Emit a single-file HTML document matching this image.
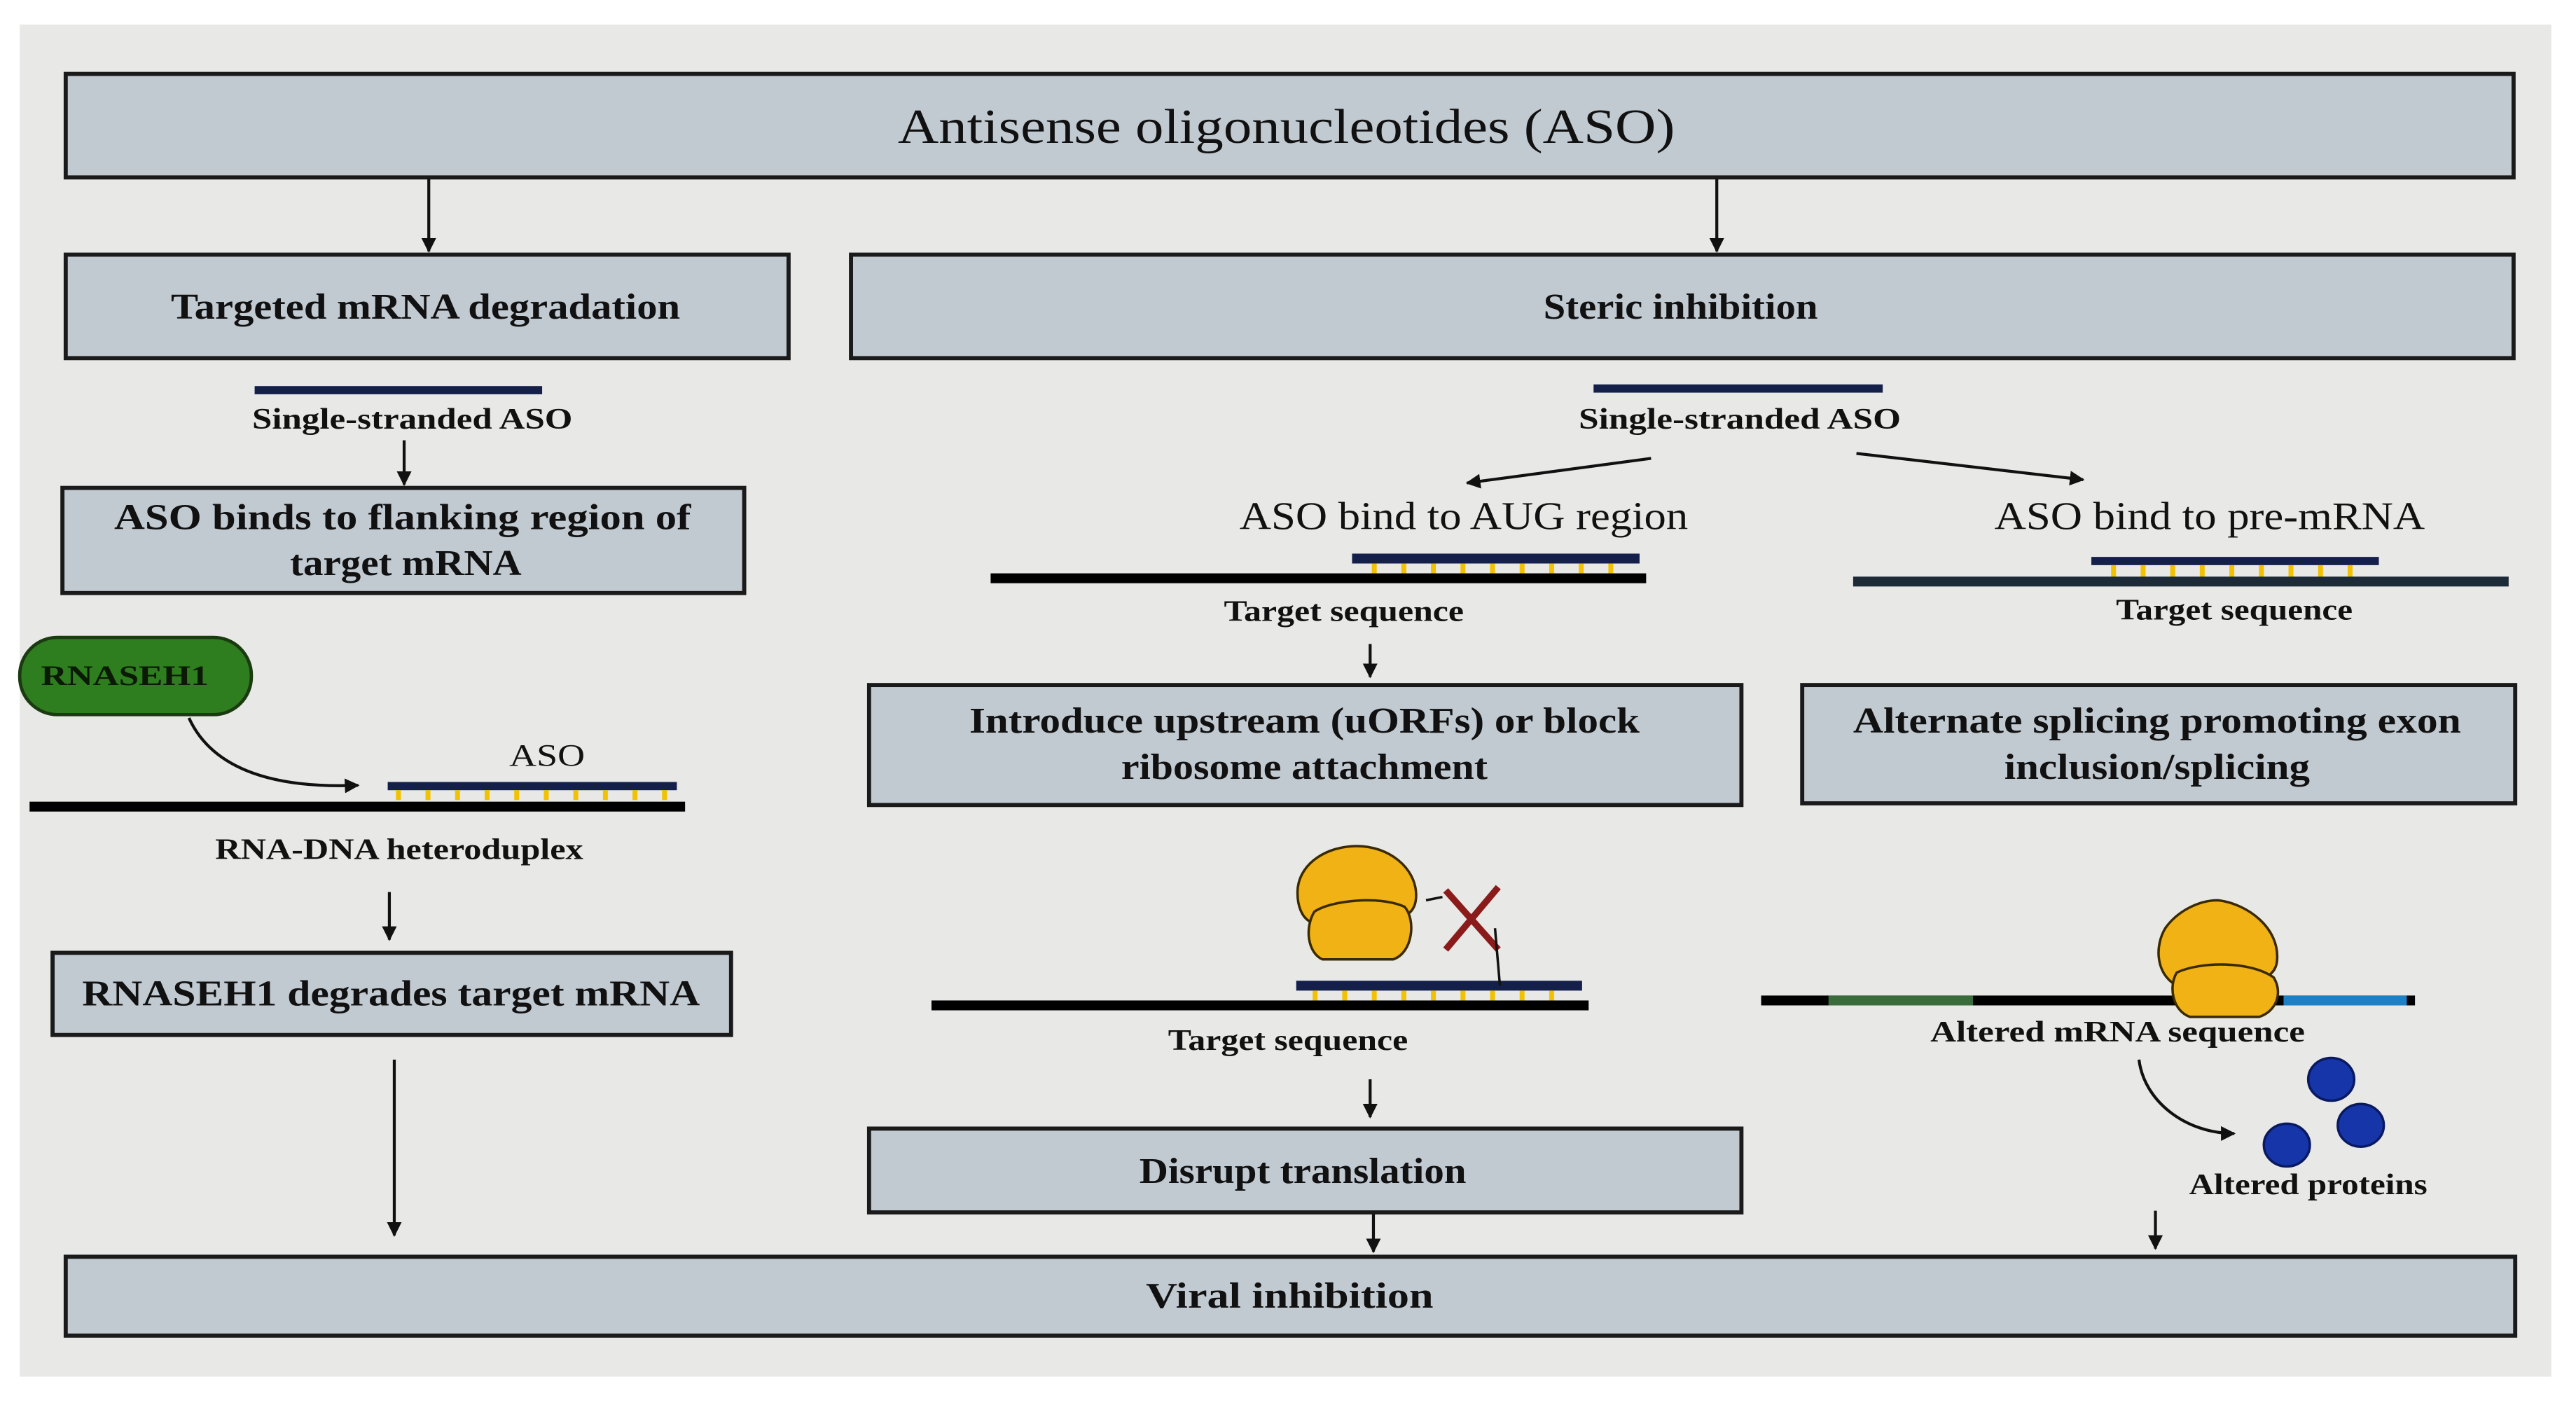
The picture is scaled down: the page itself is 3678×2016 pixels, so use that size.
<!DOCTYPE html>
<html><head><meta charset="utf-8"><style>html,body{margin:0;padding:0;background:#fff}svg{display:block}</style></head>
<body>
<svg width="3678" height="2016" viewBox="0 0 1568 859.5" preserveAspectRatio="none" xmlns="http://www.w3.org/2000/svg" font-family="Liberation Serif, serif" fill="#111">
<defs>
<marker id="ah" viewBox="0 0 10 10" refX="9" refY="5" markerWidth="5" markerHeight="5" orient="auto"><path d="M0,0 L10,5 L0,10 z" fill="#111"/></marker>
<pattern id="tk" width="18" height="10" patternUnits="userSpaceOnUse"><rect x="7" y="0" width="3" height="10" fill="#f2c200"/></pattern>
</defs>
<rect x="12" y="15" width="1541" height="823" fill="#e8e8e7"/>
<g fill="#c1c9d1" stroke="#1a1a1a" stroke-width="2.5">
<rect x="40" y="45" width="1490" height="63"/>
<rect x="40" y="155" width="440" height="63"/>
<rect x="518" y="155" width="1012" height="63"/>
<rect x="38" y="297" width="415" height="64"/>
<rect x="32" y="580" width="413" height="50"/>
<rect x="529" y="417" width="531" height="73"/>
<rect x="1097" y="417" width="434" height="72"/>
<rect x="529" y="687" width="531" height="51"/>
<rect x="40" y="765" width="1491" height="48"/>
</g>
<g stroke="#111" stroke-width="1.8" fill="none" marker-end="url(#ah)">
<line x1="261" y1="109" x2="261" y2="153"/>
<line x1="1045" y1="109" x2="1045" y2="153"/>
<line x1="246" y1="268" x2="246" y2="295"/>
<line x1="237" y1="543" x2="237" y2="572"/>
<line x1="240" y1="645" x2="240" y2="752"/>
<line x1="1005" y1="279" x2="893" y2="294"/>
<line x1="1130" y1="276" x2="1268" y2="292"/>
<line x1="834" y1="392" x2="834" y2="412"/>
<line x1="834" y1="657" x2="834" y2="680"/>
<line x1="836" y1="739" x2="836" y2="762"/>
<line x1="1312" y1="737" x2="1312" y2="760"/>
<path d="M115,437 C130,470 170,480 218,478"/>
<path d="M1302,645 C1305,670 1330,690 1360,690"/>
</g>
<!-- strands -->
<rect x="155" y="235" width="175" height="5" fill="#14204a"/>
<rect x="970" y="234" width="176" height="5" fill="#14204a"/>
<rect x="236" y="476" width="176" height="5" fill="#14204a"/>
<rect x="240" y="481" width="168" height="6" fill="url(#tk)"/>
<rect x="18" y="488" width="399" height="6" fill="#000"/>
<rect x="823" y="337" width="175" height="6" fill="#14204a"/>
<rect x="827" y="343" width="168" height="6" fill="url(#tk)"/>
<rect x="603" y="349" width="399" height="6" fill="#000"/>
<rect x="1273" y="339" width="175" height="5" fill="#14204a"/>
<rect x="1277" y="344" width="168" height="8" fill="url(#tk)"/>
<rect x="1128" y="351" width="399" height="6" fill="#1d2a38"/>
<rect x="789" y="597" width="174" height="6" fill="#14204a"/>
<rect x="793" y="603" width="166" height="6" fill="url(#tk)"/>
<rect x="567" y="609" width="400" height="6" fill="#000"/>
<rect x="1072" y="606" width="398" height="6" fill="#000"/>
<rect x="1113" y="606" width="88" height="6" fill="#3a6b3a"/>
<rect x="1390" y="606" width="75" height="6" fill="#1d7fc4"/>
<!-- RNASEH1 -->
<rect x="12" y="388" width="141" height="47" rx="23" fill="#2e7d1e" stroke="#1a3a10" stroke-width="2"/>
<!-- ribosomes -->
<g fill="#f0b214" stroke="#3a2a00" stroke-width="1.5">
<path d="M826,515 C845,515 862,528 862,545 C862,556 855,560 840,560 L800,562 C792,560 789,550 790,540 C792,525 808,515 826,515 z"/>
<path d="M800,555 C810,548 840,545 855,552 C862,560 860,580 848,584 L805,584 C796,580 794,565 800,555 z"/>
<path d="M1350,548 C1368,550 1388,565 1386,585 C1385,595 1375,598 1360,598 L1322,598 C1312,590 1312,575 1318,565 C1325,555 1338,548 1350,548 z"/>
<path d="M1325,592 C1340,585 1370,585 1384,595 C1390,605 1385,616 1375,619 L1333,619 C1322,615 1320,600 1325,592 z"/>
</g>
<g stroke="#8b1a1a" stroke-width="4"><line x1="880" y1="542" x2="912" y2="578"/><line x1="912" y1="540" x2="880" y2="578"/></g>
<path d="M868,548 L878,546 M910,565 L913,600" stroke="#111" stroke-width="1.5" fill="none"/>
<g fill="#1535a8" stroke="#0a1a60" stroke-width="1.5">
<ellipse cx="1419" cy="657" rx="14" ry="13"/><ellipse cx="1437" cy="685" rx="14" ry="13"/><ellipse cx="1392" cy="697" rx="14" ry="13"/>
</g>
<!-- text -->
<g text-anchor="middle" lengthAdjust="spacingAndGlyphs">
<text x="783" y="87" font-size="30" textLength="473" lengthAdjust="spacingAndGlyphs">Antisense oligonucleotides (ASO)</text>
<text x="259" y="194" font-size="22" font-weight="bold" textLength="310" lengthAdjust="spacingAndGlyphs">Targeted mRNA degradation</text>
<text x="1023" y="194" font-size="22" font-weight="bold" textLength="167" lengthAdjust="spacingAndGlyphs">Steric inhibition</text>
<text x="251" y="261" font-size="18" font-weight="bold" textLength="195" lengthAdjust="spacingAndGlyphs">Single-stranded  ASO</text>
<text x="1059" y="261" font-size="18" font-weight="bold" textLength="196" lengthAdjust="spacingAndGlyphs">Single-stranded  ASO</text>
<text x="245" y="322" font-size="22" font-weight="bold" textLength="351" lengthAdjust="spacingAndGlyphs">ASO binds to flanking  region of</text>
<text x="247" y="350" font-size="22" font-weight="bold" textLength="141" lengthAdjust="spacingAndGlyphs">target mRNA</text>
<text x="76" y="417" font-size="17" font-weight="bold" fill="#0a1a05" textLength="102" lengthAdjust="spacingAndGlyphs">RNASEH1</text>
<text x="333" y="466" font-size="19" textLength="46" lengthAdjust="spacingAndGlyphs">ASO</text>
<text x="243" y="523" font-size="18" font-weight="bold" textLength="224" lengthAdjust="spacingAndGlyphs">RNA-DNA heteroduplex</text>
<text x="238" y="612" font-size="22" font-weight="bold" textLength="376" lengthAdjust="spacingAndGlyphs">RNASEH1 degrades target mRNA</text>
<text x="891" y="322" font-size="24" textLength="273" lengthAdjust="spacingAndGlyphs">ASO bind to AUG region</text>
<text x="1345" y="322" font-size="24" textLength="262" lengthAdjust="spacingAndGlyphs">ASO bind to pre-mRNA</text>
<text x="818" y="378" font-size="18" font-weight="bold" textLength="146" lengthAdjust="spacingAndGlyphs">Target  sequence</text>
<text x="1360" y="377" font-size="18" font-weight="bold" textLength="144" lengthAdjust="spacingAndGlyphs">Target  sequence</text>
<text x="794" y="446" font-size="22" font-weight="bold" textLength="408" lengthAdjust="spacingAndGlyphs">Introduce upstream (uORFs) or block</text>
<text x="794" y="474" font-size="22" font-weight="bold" textLength="223" lengthAdjust="spacingAndGlyphs">ribosome attachment</text>
<text x="1313" y="446" font-size="22" font-weight="bold" textLength="370" lengthAdjust="spacingAndGlyphs">Alternate  splicing  promoting exon</text>
<text x="1313" y="474" font-size="22" font-weight="bold" textLength="186" lengthAdjust="spacingAndGlyphs">inclusion/splicing</text>
<text x="784" y="639" font-size="18" font-weight="bold" textLength="146" lengthAdjust="spacingAndGlyphs">Target  sequence</text>
<text x="793" y="720" font-size="22" font-weight="bold" textLength="199" lengthAdjust="spacingAndGlyphs">Disrupt translation</text>
<text x="1289" y="634" font-size="18" font-weight="bold" textLength="228" lengthAdjust="spacingAndGlyphs">Altered  mRNA  sequence</text>
<text x="1405" y="727" font-size="18" font-weight="bold" textLength="145" lengthAdjust="spacingAndGlyphs">Altered  proteins</text>
<text x="785" y="796" font-size="22" font-weight="bold" textLength="175" lengthAdjust="spacingAndGlyphs">Viral inhibition</text>
</g>
</svg>
</body></html>
